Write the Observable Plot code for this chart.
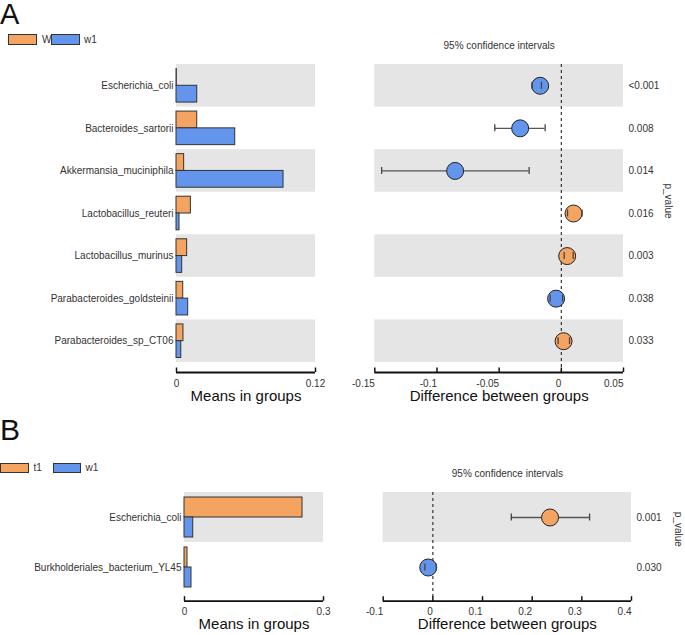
<!DOCTYPE html>
<html><head><meta charset="utf-8">
<script src="https://cdn.jsdelivr.net/npm/d3@7"></script>
<script src="https://cdn.jsdelivr.net/npm/@observablehq/plot@0.6"></script>
<style>
body{margin:0;background:#fff;font-family:"Liberation Sans",Arial,sans-serif;}
#root{position:relative;width:685px;height:635px;overflow:hidden;background:#fff;}
.letter{position:absolute;line-height:1;color:#111;font-family:"Liberation Sans",Arial,sans-serif;}
.sw{position:absolute;border:1px solid #333;box-sizing:border-box;}
.lt{position:absolute;font-size:10px;color:#333;white-space:nowrap;}
</style></head><body><div id="root"></div><script>
// ---------- Panel A data ----------
const speciesA = ["Escherichia_coli","Bacteroides_sartorii","Akkermansia_muciniphila","Lactobacillus_reuteri","Lactobacillus_murinus","Parabacteroides_goldsteinii","Parabacteroides_sp_CT06"];
const groupsA = ["W","w1"];
const meanA1 = [0.0003,0.0179,0.0066,0.0124,0.0092,0.0058,0.0060];
const meanA2 = [0.0179,0.0507,0.0924,0.0026,0.0049,0.0101,0.0041];
const diffA = [-0.0170,-0.0331,-0.0854,0.0098,0.0047,-0.0042,0.0018];
const lowA  = [-0.0235,-0.0535,-0.1445,0.0050,0.0023,-0.0090,-0.0026];
const highA = [-0.0160,-0.0130,-0.0259,0.0167,0.0095,0.0010,0.0066];
const pA = ["<0.001","0.008","0.014","0.016","0.003","0.038","0.033"];
const meanTicksA = [0,0.12];
const diffTicksA = [-0.15,-0.1,-0.05,0,0.05];

// ---------- Panel B data ----------
const speciesB = ["Escherichia_coli","Burkholderiales_bacterium_YL45"];
const groupsB = ["t1","w1"];
const meanB1 = [0.2547,0.0065];
const meanB2 = [0.0188,0.0151];
const diffB = [0.236,-0.0093];
const lowB  = [0.158,-0.016];
const highB = [0.3156,0.0068];
const pB = ["0.001","0.030"];
const meanTicksB = [0,0.3];
const diffTicksB = [-0.1,0,0.1,0.2,0.3,0.4];

const colors = ["#F4A460","#6495ED"];
const bandFill = "#e5e5e5";
const FONT = '"Liberation Sans", Arial, sans-serif';
const root = document.getElementById("root");

function place(node, left, top){
  node.style.position = "absolute";
  node.style.left = left + "px";
  node.style.top = top + "px";
  root.appendChild(node);
}

// axis line + upward ticks drawn below the last band, through the scales
function axisMarks(species, ticks, bw, gap, labelOpts){
  const lastS = species[species.length-1];
  return [
    Plot.ruleY([lastS], {y: d=>d, dy: bw/2 + gap, stroke: "#111", strokeWidth: 1.8}),
    Plot.tickX(ticks, {x: d=>d, y: ()=>lastS, dy: gap, insetTop: bw - 4.5, stroke: "#111", strokeWidth: 1.5}),
    Plot.axisX(ticks, {tickSize: 0, tickPadding: 7, tickFormat: d=>String(d), fontSize: 10, fill: "#333", label: null, ...labelOpts})
  ];
}

function barsPlot({species, groups, v1, v2, ticks, width, height, ml, mr, mt, yRange, mb, edge}){
  const bw = (yRange[1]-yRange[0]) / species.length;
  const gap = height - mb - yRange[1];
  const rows = species.flatMap((s,i)=>[{species:s, group:groups[0], v:v1[i]},{species:s, group:groups[1], v:v2[i]}]);
  const grey = species.filter((d,i)=>i%2===0);
  const x0 = ticks[0], x1 = ticks[ticks.length-1];
  return Plot.plot({
    width, height, marginLeft: ml, marginRight: mr, marginTop: mt, marginBottom: mb,
    style: {fontFamily: FONT, fontSize: "10px", color: "#333", background: "transparent", overflow: "visible"},
    x: {domain: [x0, x1], label: null},
    y: {domain: species, range: yRange, padding: 0, round: false, label: null},
    marks: [
      Plot.barX(grey, {y: d=>d, x1: x0, x2: x1, fill: bandFill}),
      Plot.barX(rows.filter(d=>d.group===groups[0]), {y: "species", x1: 0, x2: "v", fill: colors[0], stroke: "#333", strokeWidth: 1, insetTop: edge, insetBottom: bw/2}),
      Plot.barX(rows.filter(d=>d.group===groups[1]), {y: "species", x1: 0, x2: "v", fill: colors[1], stroke: "#333", strokeWidth: 1, insetTop: bw/2, insetBottom: edge}),
      ...axisMarks(species, ticks, bw, gap, {}),
      Plot.axisY({tickSize: 0, tickPadding: 3, fontSize: 10, fill: "#333", label: null}),
      Plot.text(["Means in groups"], {frameAnchor: "bottom", dy: 28, fontSize: 15, fill: "#111", text: d=>d})
    ]
  });
}

function ciPlot({species, diff, low, high, pvals, ticks, width, height, ml, mr, mt, mb, yRange, titleDy, pDx}){
  const bw = (yRange[1]-yRange[0]) / species.length;
  const gap = height - mb - yRange[1];
  const rows = species.map((s,i)=>({species:s, diff:diff[i], lo:low[i], hi:high[i], p:pvals[i]}));
  const grey = species.filter((d,i)=>i%2===0);
  const x0 = ticks[0], x1 = ticks[ticks.length-1];
  const capInset = (bw-7)/2;
  return Plot.plot({
    width, height, marginLeft: ml, marginRight: mr, marginTop: mt, marginBottom: mb,
    style: {fontFamily: FONT, fontSize: "10px", color: "#333", background: "transparent", overflow: "visible"},
    x: {domain: [x0, x1], label: null},
    y: {domain: species, range: yRange, padding: 0, round: false, label: null, axis: null},
    marks: [
      Plot.barX(grey, {y: d=>d, x1: x0, x2: x1, fill: bandFill}),
      Plot.ruleX([0], {stroke: "#333", strokeWidth: 1.2, strokeDasharray: "3,3"}),
      Plot.ruleY(rows, {y: "species", x1: "lo", x2: "hi", stroke: "#555", strokeWidth: 1.3}),
      Plot.dot(rows, {x: "diff", y: "species", r: 8.5, fill: d=>d.diff>=0?colors[0]:colors[1], stroke: "#222", strokeWidth: 1}),
      Plot.tickX(rows, {x: "lo", y: "species", stroke: "#444", strokeWidth: 1.3, insetTop: capInset, insetBottom: capInset}),
      Plot.tickX(rows, {x: "hi", y: "species", stroke: "#444", strokeWidth: 1.3, insetTop: capInset, insetBottom: capInset}),
      Plot.text(rows, {y: "species", text: "p", frameAnchor: "right", dx: 5, textAnchor: "start", fontSize: 10, fill: "#333"}),
      Plot.text(["p_value"], {frameAnchor: "right", dx: pDx, rotate: 90, fontSize: 10, fill: "#333", text: d=>d}),
      Plot.text(["95% confidence intervals"], {frameAnchor: "top", dy: titleDy, fontSize: 10, fill: "#333", text: d=>d}),
      ...axisMarks(species, ticks, bw, gap, {textAnchor: "end", dx: 0}),
      Plot.text(["Difference between groups"], {frameAnchor: "bottom", dy: 28, fontSize: 15, fill: "#111", text: d=>d})
    ]
  });
}

// Panel A
place(barsPlot({species: speciesA, groups: groupsA, v1: meanA1, v2: meanA2, ticks: meanTicksA,
  width: 340, height: 410, ml: 176, mr: 25, mt: 64, mb: 38, yRange: [64, 362], edge: 4.5}), 0, 0);
place(ciPlot({species: speciesA, diff: diffA, low: lowA, high: highA, pvals: pA, ticks: diffTicksA,
  width: 345, height: 410, ml: 34.3, mr: 62, mt: 64, mb: 38, yRange: [64, 362], titleDy: -22.3, pDx: 45}), 340, 0);

// Panel B
place(barsPlot({species: speciesB, groups: groupsB, v1: meanB1, v2: meanB2, ticks: meanTicksB,
  width: 340, height: 225, ml: 184, mr: 17, mt: 82, mb: 34.3, yRange: [82, 182], edge: 5}), 0, 410);
place(ciPlot({species: speciesB, diff: diffB, low: lowB, high: highB, pvals: pB, ticks: diffTicksB,
  width: 345, height: 225, ml: 42.7, mr: 54, mt: 82, mb: 34.3, yRange: [82, 182], titleDy: -23, pDx: 47}), 340, 410);

// Panel letters
function letter(t, left, top, size){
  const d = document.createElement("div");
  d.className = "letter"; d.textContent = t; d.style.fontSize = size + "px";
  d.style.left = left + "px"; d.style.top = top + "px";
  root.appendChild(d);
}
letter("A", 0, 0, 29);
letter("B", 0, 414.6, 30);

// Legends
function legend(groups, items){
  items.forEach((it, i)=>{
    const s = document.createElement("div");
    s.className = "sw";
    Object.assign(s.style, {left: it.bx+"px", top: it.by+"px", width: it.bw+"px", height: it.bh+"px", background: colors[i]});
    root.appendChild(s);
    const t = document.createElement("div");
    t.className = "lt"; t.textContent = groups[i];
    Object.assign(t.style, {left: it.tx+"px", top: it.by+"px", lineHeight: it.bh+"px"});
    root.appendChild(t);
  });
}
legend(groupsA, [{bx:8, by:34, bw:29, bh:11, tx:42}, {bx:51, by:34, bw:29, bh:11, tx:84}]);
legend(groupsB, [{bx:0, by:462.5, bw:29, bh:10, tx:33.5}, {bx:53, by:462.5, bw:28, bh:10, tx:85.5}]);
</script></body></html>
